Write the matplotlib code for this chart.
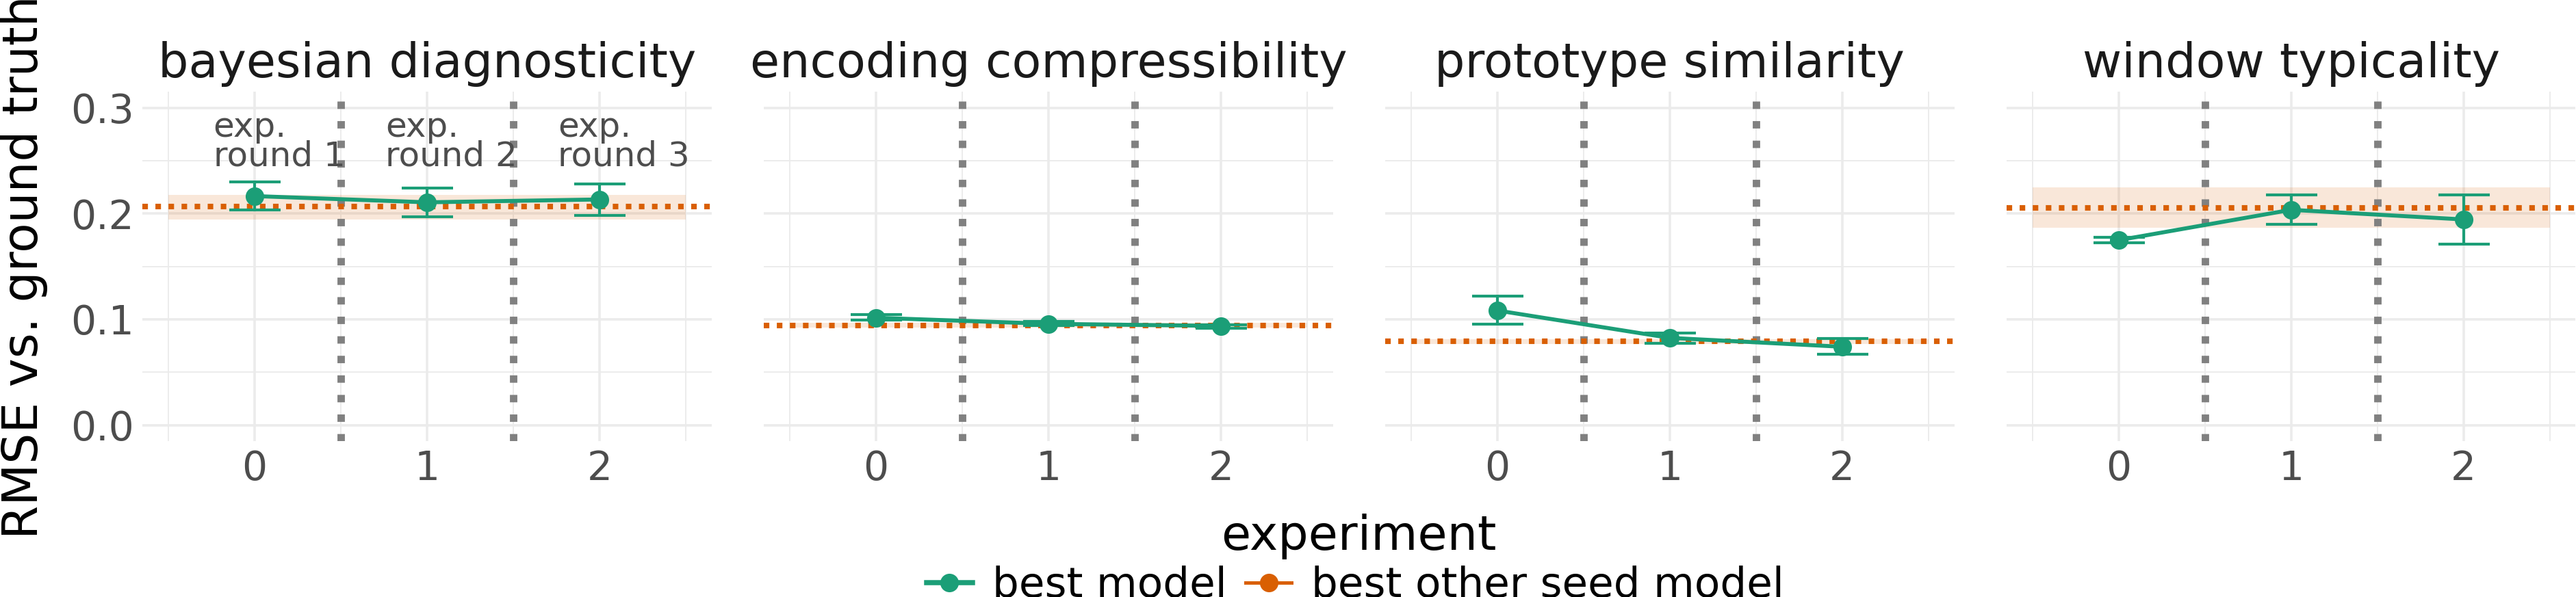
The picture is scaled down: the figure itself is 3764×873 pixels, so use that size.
import matplotlib.pyplot as plt
from matplotlib.lines import Line2D

panels = ["bayesian diagnosticity", "encoding compressibility",
          "prototype similarity", "window typicality"]
experiments = [0, 1, 2]
round_labels = ["exp.\nround 1", "exp.\nround 2", "exp.\nround 3"]

# best model: mean and error bar ends, one row per panel
best_mean = [[0.2165, 0.2106, 0.2133],
             [0.1014, 0.0957, 0.0937],
             [0.1083, 0.0824, 0.0740],
             [0.1748, 0.2035, 0.1944]]
best_lo = [[0.2031, 0.1968, 0.1985],
           [0.0991, 0.0939, 0.0916],
           [0.0951, 0.0770, 0.0668],
           [0.1722, 0.1897, 0.1713]]
best_hi = [[0.2300, 0.2242, 0.2280],
           [0.1043, 0.0977, 0.0948],
           [0.1217, 0.0873, 0.0818],
           [0.1773, 0.2173, 0.2175]]

# best other seed model: one value per panel with a band
other_mean = [0.2066, 0.0942, 0.0789, 0.2054]
other_lo = [0.1946, 0.0920, 0.0766, 0.1867]
other_hi = [0.2178, 0.0965, 0.0812, 0.2245]

green = "#1b9e77"
orange = "#d95f02"

W, H, DPI = 3764, 873, 300
fig = plt.figure(figsize=(W / DPI, H / DPI), dpi=DPI)
axes = fig.subplots(1, 4, sharey=True)
fig.subplots_adjust(left=208.2 / W, right=3763.4 / W,
                    bottom=(H - 644.7) / H, top=(H - 134.4) / H,
                    wspace=76.4 / 831.6)

for i, ax in enumerate(axes):
    ax.set_xlim(-0.65, 2.65)
    ax.set_ylim(-0.015, 0.315)
    ax.set_xticks(experiments)
    ax.set_xticks([-0.5, 0.5, 1.5, 2.5], minor=True)
    ax.set_yticks([0.0, 0.1, 0.2, 0.3])
    ax.set_yticks([0.05, 0.15, 0.25], minor=True)
    ax.grid(which="major", color="#ebebeb", lw=0.85, zorder=0)
    ax.grid(which="minor", color="#ebebeb", lw=0.45, zorder=0)
    ax.set_axisbelow(True)
    for s in ax.spines.values():
        s.set_visible(False)
    ax.tick_params(which="both", length=0, labelsize=14, labelcolor="#4d4d4d", pad=3)
    ax.set_title(panels[i], fontsize=16.8, color="#1a1a1a", pad=5.1)

    # band of the other seed model
    ax.fill_between([-0.5, 2.5], other_lo[i], other_hi[i],
                    color=orange, alpha=0.15, lw=0, zorder=1)
    # experiment round separators
    for xv in [0.5, 1.5]:
        ax.axvline(xv, color="#808080", lw=2.6, dashes=(1, 1.64), zorder=2)
    ax.axhline(other_mean[i], color=orange, lw=1.95, dashes=(1, 1.35), zorder=3)

    lo = [m - l for m, l in zip(best_mean[i], best_lo[i])]
    hi = [h - m for m, h in zip(best_mean[i], best_hi[i])]
    ax.errorbar(experiments, best_mean[i], yerr=[lo, hi], color=green,
                lw=1.4, elinewidth=1.0, capsize=9, capthick=1.0,
                marker="o", ms=5.5, zorder=4)

for x, lab in zip(experiments, round_labels):
    axes[0].text(x - 0.24, 0.268, lab, ha="left", va="center", fontsize=12,
                 color="#4d4d4d", linespacing=0.85, zorder=5)

fig.text(36 / W, 1 - 391 / H, "RMSE vs. ground truth", rotation=90,
         ha="center", va="center", fontsize=17)
fig.text(1985 / W, 1 - 804 / H, "experiment", ha="center", va="baseline",
         fontsize=16.8)

handles = [Line2D([], [], color=green, lw=1.8, marker="o", ms=5.5),
           Line2D([], [], color=orange, lw=1.2, marker="o", ms=5.5)]
fig.legend(handles, ["best model", "best other seed model"], loc="lower left",
           bbox_to_anchor=(1354 / W, -13 / H), ncol=2, frameon=False,
           fontsize=14.7, handlelength=1.09, handletextpad=0.47,
           columnspacing=0.46, borderpad=0, borderaxespad=0)

fig.savefig("out.png", dpi=DPI)
